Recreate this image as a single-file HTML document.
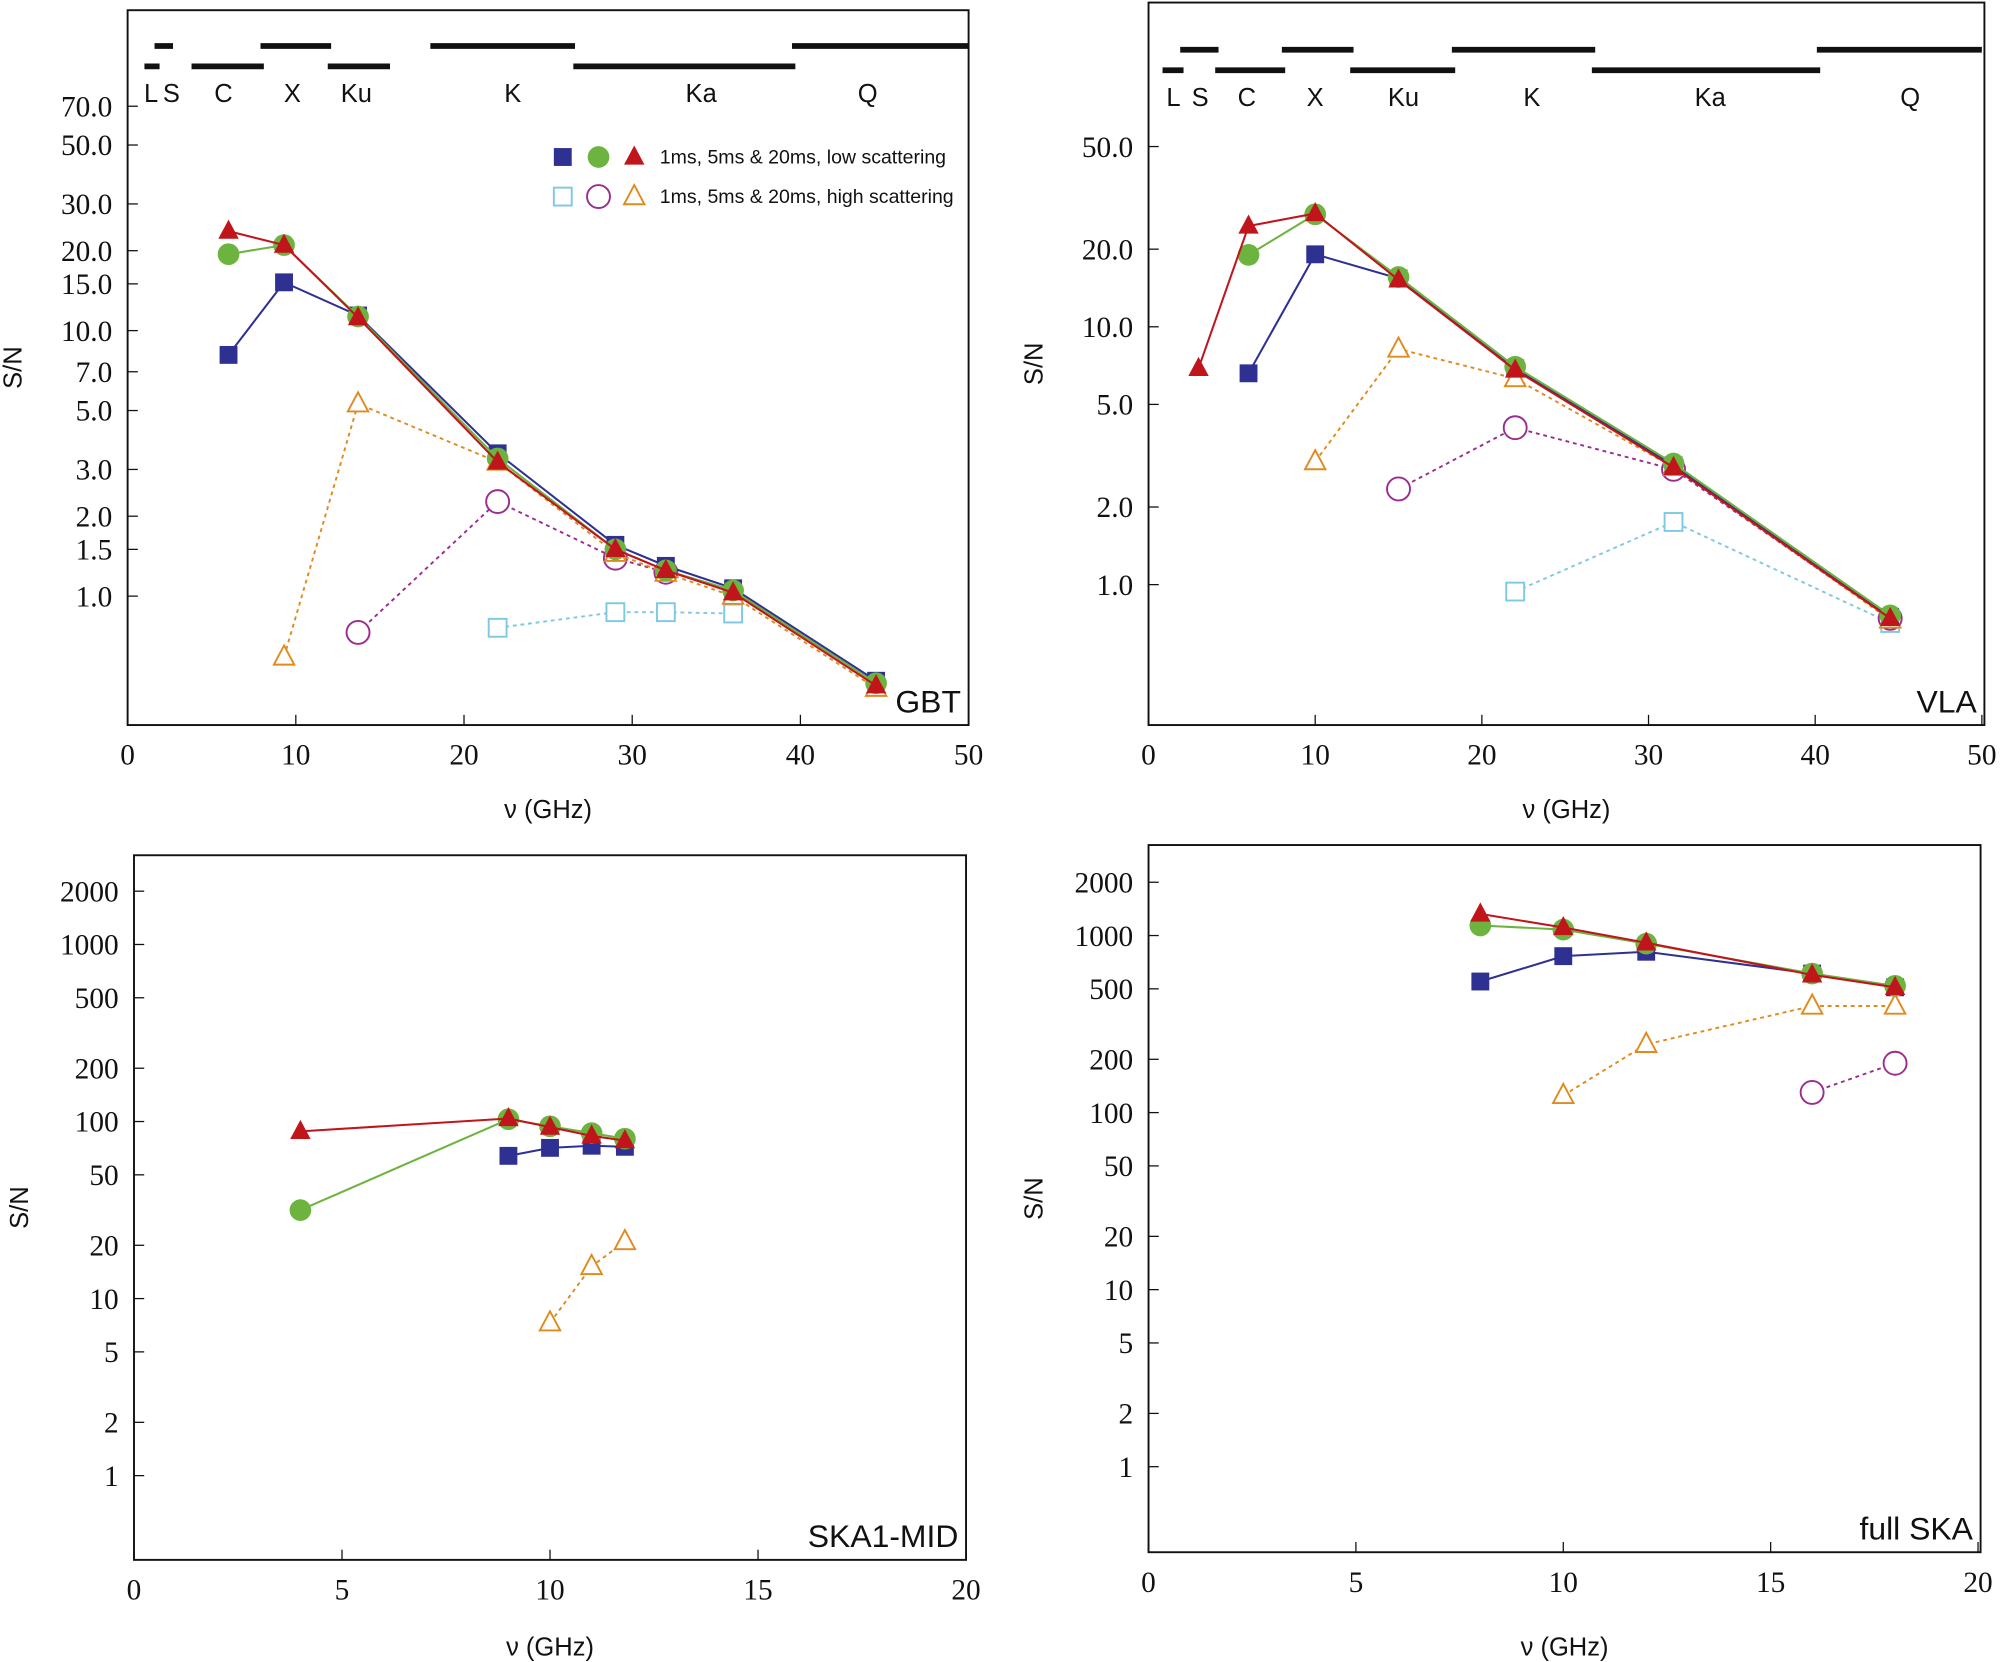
<!DOCTYPE html>
<html><head><meta charset="utf-8"><style>
html,body{margin:0;padding:0;background:#fff}
svg{display:block}
.tk{font-family:"Liberation Serif",serif;font-size:23px;fill:#111}
.sn{font-family:"Liberation Sans",sans-serif;font-size:20px;fill:#111}
</style></head><body>
<svg id="fig" width="2001" height="1662" viewBox="0 0 1568 1302" preserveAspectRatio="none" xmlns="http://www.w3.org/2000/svg"></svg>
<script>
// ---------- data ----------
const gbtLowSqX=[6,9.3,13.7,22,29,32,36,44.5];
const gbtLowSqY=[8.1,15.2,11.4,3.45,1.56,1.3,1.07,0.48];
const gbtLowCiX=[6,9.3,13.7,22,29,32,36,44.5];
const gbtLowCiY=[19.4,21,11.3,3.3,1.5,1.25,1.05,0.47];
const gbtLowTrX=[6,9.3,13.7,22,29,32,36,44.5];
const gbtLowTrY=[23.7,21,11.2,3.2,1.5,1.25,1.03,0.46];
const gbtHiSqX=[22,29,32,36];
const gbtHiSqY=[0.76,0.87,0.87,0.86];
const gbtHiCiX=[13.7,22,29,32];
const gbtHiCiY=[0.73,2.27,1.39,1.23];
const gbtHiTrX=[9.3,13.7,22,29,32,36,44.5];
const gbtHiTrY=[0.59,5.3,3.2,1.45,1.22,1.0,0.45];

const vlaLowSqX=[6,10,15,22,31.5,44.5];
const vlaLowSqY=[6.6,19.1,15.4,6.9,2.9,0.75];
const vlaLowCiX=[6,10,15,22,31.5,44.5];
const vlaLowCiY=[19,27.3,15.6,7.0,2.95,0.76];
const vlaLowTrX=[3,6,10,15,22,31.5,44.5];
const vlaLowTrY=[6.9,24.6,27.5,15.2,6.8,2.85,0.74];
const vlaHiSqX=[22,31.5,44.5];
const vlaHiSqY=[0.94,1.75,0.71];
const vlaHiCiX=[15,22,31.5,44.5];
const vlaHiCiY=[2.35,4.06,2.8,0.74];
const vlaHiTrX=[10,15,22,31.5,44.5];
const vlaHiTrY=[3.0,8.2,6.3,2.85,0.73];

const ska1LowSqX=[9,10,11,11.8];
const ska1LowSqY=[64,71,73,72];
const ska1LowCiX=[4,9,10,11,11.8];
const ska1LowCiY=[31.6,103,94,86,80];
const ska1LowTrX=[4,9,10,11,11.8];
const ska1LowTrY=[88,104,93,83,78];
const ska1HiTrX=[10,11,11.8];
const ska1HiTrY=[7.3,15.2,21];

const skaLowSqX=[8,10,12,16,18];
const skaLowSqY=[550,765,810,610,510];
const skaLowCiX=[8,10,12,16,18];
const skaLowCiY=[1140,1080,900,610,520];
const skaLowTrX=[8,10,12,16,18];
const skaLowTrY=[1325,1110,910,600,510];
const skaHiTrX=[10,12,16,18];
const skaHiTrY=[125,243,400,400];
const skaHiCiX=[16,18];
const skaHiCiY=[130,190];

const ticksA=["70.0","50.0","30.0","20.0","15.0","10.0","7.0","5.0","3.0","2.0","1.5","1.0"];
const ticksB=["50.0","20.0","10.0","5.0","2.0","1.0"];
const ticksC=["2000","1000","500","200","100","50","20","10","5","2","1"];
const xTicks50=[0,10,20,30,40,50];
const xTicks20=[0,5,10,15,20];
const bandNames=["L","S","C","X","Ku","K","Ka","Q"];
const gbtBandLo=[1,1.6,3.8,7.9,11.9,18,26.5,39.5];
const gbtBandHi=[1.9,2.7,8.1,12.1,15.6,26.6,39.7,50];
const gbtBandLabelX=[1.4,2.6,5.7,9.8,13.6,22.9,34.1,44];
const vlaBandLo=[0.84,1.9,4,8,12.1,18.2,26.6,40.1];
const vlaBandHi=[2.1,4.2,8.2,12.3,18.4,26.8,40.3,50];
const vlaBandLabelX=[1.5,3.1,5.9,10,15.3,23,33.7,45.7];

// ---------- drawing ----------
const NS="http://www.w3.org/2000/svg";
const svg=document.getElementById('fig');
const C={sq:'#2e3192',ci:'#6db33f',tr:'#c1151c',hsq:'#7ec8e3',hci:'#9b2d8f',htr:'#e08a1e'};
function el(t,a,p){const e=document.createElementNS(NS,t);for(const k in a)e.setAttribute(k,a[k]);(p||svg).appendChild(e);return e;}
function marker(g,kind,x,y,col,open){
  let m;
  if(kind==='sq') m=el('rect',{x:x-7,y:y-7,width:14,height:14},g);
  else if(kind==='ci') m=el('circle',{cx:x,cy:y,r:open?9:8.5},g);
  else m=el('polygon',{points:`${x},${y-9} ${x+8},${y+6} ${x-8},${y+6}`},g);
  if(open){m.setAttribute('fill','#fff');m.setAttribute('stroke',col);m.setAttribute('stroke-width','1.5');}
  else m.setAttribute('fill',col);
  return m;
}
function panel(o){
  const g=el('g',{});
  
  
  const fx=v=>o.x0+(v-o.xmin)*o.xs;
  const fy=v=>o.y1-Math.log10(v)*o.ys;
  const fr=el('rect',{x:o.l,y:o.t,width:o.r-o.l,height:o.b-o.t,fill:'none',stroke:'#111','stroke-width':1.5},g);
  
  
  o.xt.forEach(v=>{
    const x=fx(v);
    el('line',{x1:x,y1:o.b,x2:x,y2:o.b-8,stroke:'#111'},g);
    const t=el('text',{x:x,y:o.b+31,'text-anchor':'middle',class:'tk'},g);t.textContent=v;
    
    
  });
  o.yt.forEach(s=>{
    const y=fy(parseFloat(s));
    el('line',{x1:o.l,y1:y,x2:o.l+8,y2:y,stroke:'#111'},g);
    const t=el('text',{x:o.l-12,y:y+8,'text-anchor':'end',class:'tk'},g);t.textContent=s;
    
    
  });
  const xl=el('text',{x:(o.l+o.r)/2,y:o.b+o.xtOff,'text-anchor':'middle',class:'sn'},g);xl.textContent='ν (GHz)';
  
  
  const yl=el('text',{x:0,y:0,'text-anchor':'middle',class:'sn',transform:`translate(${o.l-83},${(o.t+o.b)/2}) rotate(-90)`},g);yl.textContent='S/N';
  
  
  const nm=el('text',{x:o.r-6,y:o.b-10,'text-anchor':'end','font-family':'Liberation Sans,sans-serif','font-size':25,fill:'#111'},g);nm.textContent=o.label;
  
  
  o.series.forEach(s=>{
    const sg=el('g',{},g);
    
    
    const pts=s.x.map((v,i)=>fx(v)+','+fy(s.y[i])).join(' ');
    el('polyline',{points:pts,fill:'none',stroke:s.c,'stroke-width':s.open?1.5:1.6,'stroke-dasharray':s.open?'3,3':'none'},sg);
    s.x.forEach((v,i)=>{
      const m=marker(sg,s.k,fx(v),fy(s.y[i]),s.c,s.open);
      
      
    });
  });
  if(o.bands){
    const bg=el('g',{},g);
    
    
    bandNames.forEach((b,i)=>{
      const y=(i%2===0)?o.bands[1]:o.bands[0];
      el('line',{x1:fx(o.bLo[i]),y1:y,x2:Math.min(fx(o.bHi[i]),o.r),y2:y,stroke:'#111','stroke-width':4.5},bg);
      const t=el('text',{x:fx(o.bLab[i]),y:o.bands[1]+28,'text-anchor':'middle',class:'sn'},bg);t.textContent=b;
      
      
    });
  }
  return g;
}
function S(n,k,x,y,open){return {n,k,x,y,c:C[(open?'h':'')+k],open};}

panel({name:'gbt',label:'GBT',l:100,r:759,t:8,b:568,x0:100,xmin:0,xs:13.18,y1:467,ys:208,xt:xTicks50,yt:ticksA,bands:[36,52],xtOff:73,
 bLo:gbtBandLo,bHi:gbtBandHi,bLab:gbtBandLabelX,
 series:[S('gbt-high-squares','sq',gbtHiSqX,gbtHiSqY,true),S('gbt-high-circles','ci',gbtHiCiX,gbtHiCiY,true),S('gbt-high-triangles','tr',gbtHiTrX,gbtHiTrY,true),
 S('gbt-low-squares','sq',gbtLowSqX,gbtLowSqY,false),S('gbt-low-circles','ci',gbtLowCiX,gbtLowCiY,false),S('gbt-low-triangles','tr',gbtLowTrX,gbtLowTrY,false)]});
panel({name:'vla',label:'VLA',l:900,r:1555,t:2,b:568,x0:900,xmin:0,xs:13.06,y1:458,ys:202,xt:xTicks50,yt:ticksB,bands:[39,55],xtOff:73,
 bLo:vlaBandLo,bHi:vlaBandHi,bLab:vlaBandLabelX,
 series:[S('vla-high-squares','sq',vlaHiSqX,vlaHiSqY,true),S('vla-high-circles','ci',vlaHiCiX,vlaHiCiY,true),S('vla-high-triangles','tr',vlaHiTrX,vlaHiTrY,true),
 S('vla-low-squares','sq',vlaLowSqX,vlaLowSqY,false),S('vla-low-circles','ci',vlaLowCiX,vlaLowCiY,false),S('vla-low-triangles','tr',vlaLowTrX,vlaLowTrY,false)]});
panel({name:'ska1-mid',label:'SKA1-MID',l:105,r:757,t:670,b:1222,x0:105,xmin:0,xs:32.6,y1:1156,ys:138.7,xt:xTicks20,yt:ticksC,xtOff:75,
 series:[S('ska1-high-triangles','tr',ska1HiTrX,ska1HiTrY,true),
 S('ska1-low-squares','sq',ska1LowSqX,ska1LowSqY,false),S('ska1-low-circles','ci',ska1LowCiX,ska1LowCiY,false),S('ska1-low-triangles','tr',ska1LowTrX,ska1LowTrY,false)]});
panel({name:'full-ska',label:'full SKA',l:900,r:1552,t:662,b:1216,x0:900,xmin:0,xs:32.5,y1:1149,ys:138.7,xt:xTicks20,yt:ticksC,xtOff:81,
 series:[S('ska-high-triangles','tr',skaHiTrX,skaHiTrY,true),S('ska-high-circles','ci',skaHiCiX,skaHiCiY,true),
 S('ska-low-squares','sq',skaLowSqX,skaLowSqY,false),S('ska-low-circles','ci',skaLowCiX,skaLowCiY,false),S('ska-low-triangles','tr',skaLowTrX,skaLowTrY,false)]});

// legend
const lg=el('g',{});


[['sq',441],['ci',469],['tr',497]].forEach(([k,x])=>{marker(lg,k,x,123,C[k],false);marker(lg,k,x,154,C['h'+k],true);});
const l1=el('text',{x:517,y:128,'font-family':'Liberation Sans,sans-serif','font-size':15.3,fill:'#111'},lg);l1.textContent='1ms, 5ms & 20ms, low scattering';


const l2=el('text',{x:517,y:159,'font-family':'Liberation Sans,sans-serif','font-size':15.3,fill:'#111'},lg);l2.textContent='1ms, 5ms & 20ms, high scattering';


</script>
</body></html>
